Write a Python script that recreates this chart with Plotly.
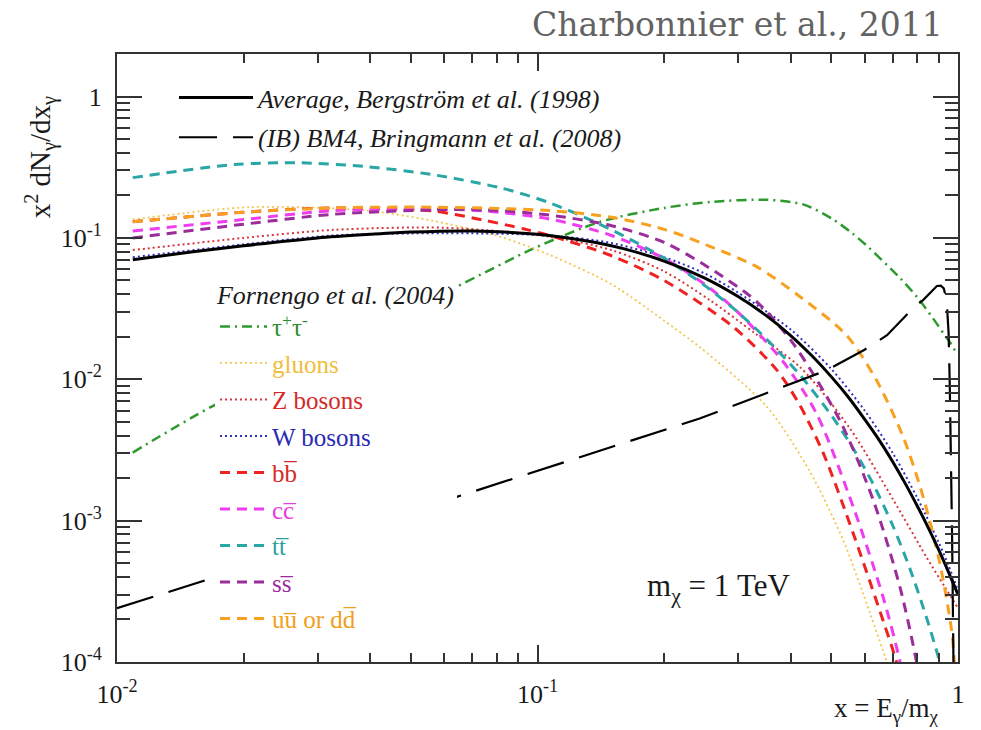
import math
import plotly.graph_objects as go

# ---- spectra x^2 dN/dx for a 1 TeV WIMP ----
x_avg = [0.0109, 0.015, 0.02, 0.03, 0.04, 0.05, 0.07, 0.1, 0.13, 0.16, 0.2, 0.25, 0.3, 0.35, 0.4, 0.45,
         0.5, 0.55, 0.6, 0.65, 0.7, 0.75, 0.8, 0.85, 0.9, 0.95, 1.0]
y_avg = [0.070, 0.0795, 0.088, 0.100, 0.106, 0.110, 0.112, 0.106, 0.0955, 0.084, 0.0686, 0.052, 0.0385,
         0.0282, 0.0204, 0.0146, 0.0104, 0.0074, 0.0052, 0.0037, 0.0026, 0.00182, 0.00127, 8.9e-4,
         6.2e-4, 4.3e-4, 3.0e-4]

x_ib = [0.01, 0.0181, 0.0637, 0.243, 0.488, 0.598, 0.678, 0.782, 0.826, 0.891, 0.91, 0.925, 0.94,
        0.95, 0.956, 0.962, 0.968, 0.973, 0.978]
y_ib = [2.4e-4, 4.2e-4, 1.46e-3, 5.28e-3, 0.0116, 0.0161, 0.0205, 0.0319, 0.0363, 0.0457, 0.046,
        0.044, 0.036, 0.021, 0.009, 0.003, 8e-4, 2e-4, 5e-5]

x_tau = [0.0109, 0.0171, 0.0619, 0.0986, 0.141, 0.2, 0.26, 0.352, 0.43, 0.505, 0.56, 0.607, 0.728,
         0.8, 0.872, 0.93, 0.96, 0.99]
y_tau = [0.00303, 0.0066, 0.0428, 0.085, 0.13, 0.163, 0.18, 0.186, 0.172, 0.135, 0.108, 0.088, 0.052,
         0.038, 0.027, 0.0205, 0.018, 0.0155]

x_glu = [0.0109, 0.0207, 0.0393, 0.0564, 0.0814, 0.107, 0.15, 0.2, 0.243, 0.351, 0.443, 0.534, 0.618,
         0.677, 0.7]
y_glu = [0.135, 0.165, 0.156, 0.132, 0.102, 0.0757, 0.047, 0.026, 0.0169, 0.0064, 0.00226, 7.2e-4,
         2.2e-4, 1e-4, 7e-5]

x_z = [0.0109, 0.02, 0.0327, 0.06, 0.107, 0.15, 0.2, 0.257, 0.33, 0.421, 0.553, 0.702, 0.842, 0.93, 1.0]
y_z = [0.082, 0.1, 0.114, 0.118, 0.102, 0.082, 0.058, 0.0363, 0.021, 0.0122, 0.0045, 0.0014, 5.5e-4,
       3.4e-4, 2.4e-4]

x_w = [0.0109, 0.02, 0.0327, 0.06, 0.107, 0.15, 0.2, 0.25, 0.3, 0.4, 0.5, 0.6, 0.7, 0.8, 0.9, 0.95, 1.0]
y_w = [0.073, 0.09, 0.104, 0.108, 0.104, 0.092, 0.073, 0.056, 0.041, 0.0225, 0.0118, 0.006, 0.003,
       0.00145, 7e-4, 4.8e-4, 3.2e-4]

x_bb = [0.0109, 0.02, 0.0327, 0.0564, 0.075, 0.0925, 0.107, 0.15, 0.2, 0.292, 0.371, 0.42, 0.479,
        0.564, 0.664, 0.714, 0.73]
y_bb = [0.13, 0.152, 0.163, 0.155, 0.133, 0.116, 0.104, 0.0748, 0.05, 0.0235, 0.0116, 0.0066, 0.00297,
        8.05e-4, 1.95e-4, 1e-4, 7e-5]

x_cc = [0.0109, 0.02, 0.0327, 0.0564, 0.075, 0.107, 0.15, 0.2, 0.25, 0.3, 0.384, 0.461, 0.564, 0.664,
        0.728, 0.75]
y_cc = [0.112, 0.135, 0.156, 0.16, 0.155, 0.136, 0.104, 0.0716, 0.0469, 0.0297, 0.0133, 0.0057,
        0.00124, 2.86e-4, 1e-4, 6e-5]

x_tt = [0.0109, 0.0189, 0.0272, 0.0393, 0.0564, 0.0814, 0.107, 0.15, 0.2, 0.25, 0.3, 0.35, 0.42, 0.5,
        0.563, 0.63, 0.7, 0.77, 0.84, 0.9, 0.95]
y_tt = [0.267, 0.33, 0.34, 0.319, 0.28, 0.2265, 0.177, 0.114, 0.072, 0.046, 0.0297, 0.0193, 0.0108,
        0.00555, 0.00325, 0.00179, 9.2e-4, 4.5e-4, 2.1e-4, 1.06e-4, 5.8e-5]

x_ss = [0.0109, 0.02, 0.0327, 0.0564, 0.075, 0.107, 0.15, 0.2, 0.257, 0.33, 0.405, 0.524, 0.629,
        0.728, 0.797, 0.82]
y_ss = [0.10, 0.125, 0.147, 0.158, 0.158, 0.145, 0.122, 0.093, 0.061, 0.036, 0.018, 0.0051, 0.00139,
        3.37e-4, 1e-4, 6e-5]

x_uu = [0.0109, 0.02, 0.0327, 0.0564, 0.107, 0.15, 0.2, 0.2525, 0.332, 0.421, 0.543, 0.64, 0.741,
        0.827, 0.906, 0.966, 0.98, 0.99]
y_uu = [0.13, 0.152, 0.163, 0.165, 0.156, 0.14, 0.115, 0.089, 0.0626, 0.0384, 0.0205, 0.00984,
        0.0039, 0.00146, 4.95e-4, 1.66e-4, 1.0e-4, 4e-5]

# axis ticks
x_major = [0.01, 0.1, 1]
x_major_text = ["10<sup>-2</sup>", "10<sup>-1</sup>", "1"]
y_major = [1e-4, 1e-3, 1e-2, 1e-1, 1]
y_major_text = ["10<sup>-4</sup>", "10<sup>-3</sup>", "10<sup>-2</sup>", "10<sup>-1</sup>", "1"]
x_minor = [m * d for d in (0.01, 0.1) for m in range(2, 10)]
y_minor = [m * d for d in (1e-4, 1e-3, 1e-2, 1e-1) for m in range(2, 10)] + [2]

SERIF = "Liberation Serif"
AX = "#333333"
INK = "#1a1a1a"

# (x, y, colour, dash, width, label, label colour)
fornengo = [
    (x_tau, y_tau, "#2e9a2e", "10px,5px,2px,5px", 2.5, "τ<sup>+</sup>τ<sup>-</sup>", "#2e8b2e"),
    (x_glu, y_glu, "#f2c64e", "2px,3px", 1.8, "gluons", "#f0be3c"),
    (x_z, y_z, "#d8353d", "2px,3px", 2.0, "Z bosons", "#d42a2a"),
    (x_w, y_w, "#3030c0", "2px,3px", 2.0, "W bosons", "#2a2ab4"),
    (x_bb, y_bb, "#ee2222", "10px,7px", 3.0, "bb\u0305", "#d42a2a"),
    (x_cc, y_cc, "#f03cf0", "10px,7px", 3.0, "cc\u0305", "#e63ce6"),
    (x_tt, y_tt, "#2aa6a6", "10px,7px", 3.0, "tt\u0305", "#2aa0a0"),
    (x_ss, y_ss, "#9b2d9b", "10px,7px", 3.0, "ss\u0305", "#9b2d9b"),
    (x_uu, y_uu, "#f8a020", "10px,7px", 3.0, "uu\u0305 or dd\u0305", "#f0a020"),
]

fig = go.Figure()

for i, (xs, ys, col, dash, w, lab, lcol) in enumerate(fornengo):
    fig.add_trace(go.Scatter(
        x=xs, y=ys, mode="lines",
        line=dict(color=col, dash=dash, width=w, shape="spline", smoothing=0.8),
        name=f'<span style="color:{lcol};font-family:{SERIF}">{lab}</span>',
        legend="legend", legendgroup=f"g{i}", hoverinfo="skip",
    ))

fig.add_trace(go.Scatter(
    x=x_avg, y=y_avg, mode="lines",
    line=dict(color="black", width=3, shape="spline", smoothing=0.8),
    name="<i>Average, Bergström et al. (1998)</i>",
    legend="legend2", legendgroup="a", hoverinfo="skip",
))
fig.add_trace(go.Scatter(
    x=x_ib, y=y_ib, mode="lines",
    line=dict(color="black", width=2.2, dash="38px,16px"),
    name="<i>(IB) BM4, Bringmann et al. (2008)</i>",
    legend="legend2", legendgroup="b", hoverinfo="skip",
))

axis_common = dict(
    type="log", showgrid=False, zeroline=False,
    showline=True, linecolor=AX, linewidth=2, mirror="allticks",
    ticks="inside", tickcolor=AX, tickwidth=1.5,
    tickfont=dict(family=SERIF, size=26, color=INK),
    tickmode="array",
)

fig.update_xaxes(
    **axis_common, range=[-2, 0], tickvals=x_major, ticktext=x_major_text,
    ticklen=17, ticklabelstandoff=8,
    minor=dict(tickmode="array", tickvals=x_minor, ticks="inside", ticklen=9,
               tickcolor=AX, tickwidth=1.5, showgrid=False),
)
fig.update_yaxes(
    **axis_common, range=[-4, math.log10(2)], tickvals=y_major, ticktext=y_major_text,
    ticklen=25, ticklabelstandoff=8,
    minor=dict(tickmode="array", tickvals=y_minor, ticks="inside", ticklen=13,
               tickcolor=AX, tickwidth=1.5, showgrid=False),
)

fig.update_layout(
    width=981, height=730,
    margin=dict(l=117, r=23, t=54, b=68),
    paper_bgcolor="white", plot_bgcolor="white",
    font=dict(family=SERIF, color=INK),
    legend=dict(
        x=0.1165, y=0.645, xanchor="left", yanchor="top",
        bgcolor="white", borderwidth=0,
        font=dict(family=SERIF, size=25),
        title=dict(text="<i>Fornengo et al. (2004)</i>", font=dict(family=SERIF, size=26, color=INK)),
        tracegroupgap=1, itemwidth=47,
    ),
    legend2=dict(
        x=0.0678, y=0.967, xanchor="left", yanchor="top",
        bgcolor="rgba(0,0,0,0)", borderwidth=0,
        font=dict(family=SERIF, size=26, color=INK),
        tracegroupgap=3, itemwidth=74,
    ),
    annotations=[
        dict(text="Charbonnier et al., 2011", xref="paper", yref="paper",
             x=0.9845, y=1.048, xanchor="right", yanchor="middle", showarrow=False,
             font=dict(family="DejaVu Serif", size=33, color="#636363")),
        dict(text="x<sup>2</sup> dN<sub>γ</sub>/dx<sub>γ</sub>", xref="paper", yref="paper",
             x=-0.0916, y=0.83, xanchor="center", yanchor="middle", textangle=-90, showarrow=False,
             font=dict(family=SERIF, size=29, color=INK)),
        dict(text="x = E<sub>γ</sub>/m<sub>χ</sub>", xref="paper", yref="paper",
             x=0.98, y=-0.079, xanchor="right", yanchor="middle", showarrow=False,
             font=dict(family=SERIF, size=27, color=INK)),
        dict(text="m<sub>χ</sub> = 1 TeV", xref="paper", yref="paper",
             x=0.716, y=0.122, xanchor="center", yanchor="middle", showarrow=False,
             font=dict(family=SERIF, size=31, color=INK)),
    ],
)

fig.write_html("out.html")
